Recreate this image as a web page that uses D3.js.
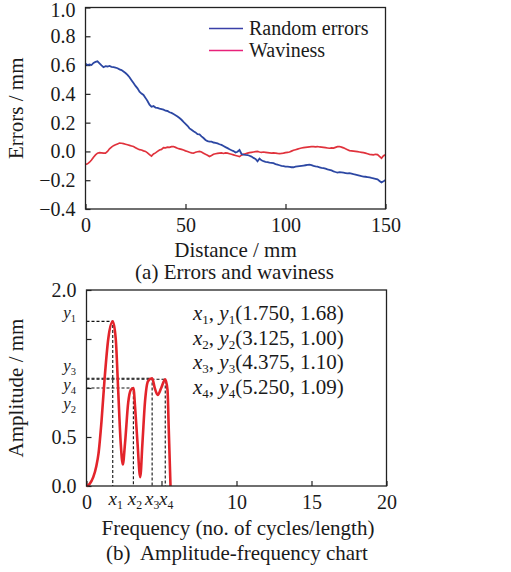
<!DOCTYPE html>
<html>
<head>
<meta charset="utf-8">
<script src="https://cdn.jsdelivr.net/npm/d3@7"></script>
<style>
  body { margin: 0; background: #fff; }
  svg text { font-family: "Liberation Serif", Tinos, "Times New Roman", Times, "DejaVu Serif", serif; fill: #1a1a1a; }
</style>
</head>
<body>
<div id="chart"></div>
<script>
// (a) errors and waviness, sampled every 1 mm
const distance = d3.range(0, 151);
const randomErrors = [
    0.610, 0.600, 0.605, 0.600, 0.615, 0.622, 0.626, 0.612, 0.598, 0.585,
    0.592, 0.590, 0.594, 0.588, 0.585, 0.582, 0.578, 0.570, 0.565, 0.555,
    0.545, 0.532, 0.515, 0.495, 0.475, 0.455, 0.438, 0.415, 0.402, 0.392,
    0.372, 0.350, 0.325, 0.310, 0.315, 0.305, 0.303, 0.298, 0.294, 0.290,
    0.283, 0.281, 0.272, 0.268, 0.260, 0.252, 0.243, 0.232, 0.220, 0.205,
    0.192, 0.178, 0.160, 0.150, 0.140, 0.132, 0.120, 0.118, 0.105, 0.093,
    0.080, 0.072, 0.068, 0.068, 0.062, 0.060, 0.056, 0.050, 0.045, 0.038,
    0.030, 0.023, 0.015, 0.008, 0.002, -0.008, -0.002, 0.010, -0.018, -0.022,
    -0.024, -0.025, -0.030, -0.036, -0.045, -0.052, -0.068, -0.050, -0.062, -0.068,
    -0.072, -0.074, -0.078, -0.080, -0.082, -0.088, -0.092, -0.096, -0.100, -0.102,
    -0.105, -0.106, -0.108, -0.110, -0.110, -0.106, -0.104, -0.102, -0.100, -0.098,
    -0.096, -0.094, -0.092, -0.095, -0.100, -0.104, -0.106, -0.110, -0.114, -0.116,
    -0.120, -0.125, -0.128, -0.132, -0.138, -0.143, -0.147, -0.144, -0.146, -0.148,
    -0.150, -0.152, -0.151, -0.154, -0.158, -0.161, -0.164, -0.168, -0.172, -0.175,
    -0.176, -0.178, -0.180, -0.184, -0.187, -0.190, -0.194, -0.205, -0.216, -0.208,
    -0.198
];
const waviness = [
    -0.090, -0.086, -0.075, -0.060, -0.040, -0.024, -0.012, -0.008, -0.010, -0.012,
    -0.012, 0.000, 0.018, 0.030, 0.040, 0.046, 0.052, 0.058, 0.057, 0.054,
    0.050, 0.046, 0.042, 0.038, 0.034, 0.026, 0.018, 0.012, 0.010, 0.004,
    0.000, -0.010, -0.022, -0.032, -0.018, -0.010, 0.000, 0.010, 0.014, 0.027,
    0.025, 0.030, 0.028, 0.033, 0.034, 0.028, 0.022, 0.018, 0.014, 0.010,
    0.004, 0.000, -0.006, -0.010, -0.012, -0.006, -0.002, 0.000, -0.004, -0.012,
    -0.020, -0.026, -0.035, -0.028, -0.020, -0.016, -0.014, -0.012, -0.010, -0.014,
    -0.010, -0.012, -0.016, -0.020, -0.024, -0.028, -0.032, -0.036, -0.026, -0.020,
    -0.016, -0.012, -0.008, -0.006, -0.004, -0.002, 0.000, -0.004, -0.006, -0.004,
    -0.006, -0.008, -0.010, -0.012, -0.010, -0.012, -0.014, -0.015, -0.014, -0.012,
    -0.008, -0.006, -0.004, 0.002, 0.008, 0.012, 0.016, 0.020, 0.024, 0.026,
    0.028, 0.030, 0.032, 0.033, 0.034, 0.032, 0.034, 0.031, 0.030, 0.028,
    0.026, 0.024, 0.022, 0.024, 0.023, 0.028, 0.033, 0.034, 0.030, 0.025,
    0.018, 0.012, 0.006, 0.004, 0.002, 0.000, -0.002, -0.004, -0.006, -0.008,
    -0.012, -0.016, -0.020, -0.022, -0.024, -0.020, -0.022, -0.035, -0.047, -0.030,
    -0.024
];
const errorTicks = [-0.4, -0.2, 0.0, 0.2, 0.4, 0.6, 0.8, 1.0];
const distanceTicks = [0, 50, 100, 150];

// (b) amplitude spectrum
const frequency = [0, 0.2, 0.45, 0.65, 0.8, 1.0, 1.2, 1.45, 1.75, 1.95, 2.12, 2.28, 2.42, 2.57, 2.78,
    2.95, 3.125, 3.25, 3.4, 3.58, 3.73, 3.9, 4.1, 4.375, 4.55, 4.75, 4.98, 5.25, 5.4, 5.48, 5.6];
const amplitude = [0, 0.02, 0.09, 0.2, 0.33, 0.66, 1.08, 1.5, 1.68, 1.5, 0.95, 0.44, 0.22, 0.44, 0.85,
    0.98, 1.00, 0.78, 0.44, 0.09, 0.44, 0.86, 1.07, 1.10, 1.0, 0.93, 1.0, 1.09, 0.98, 0.6, 0];
const peakX = [1.750, 3.125, 4.375, 5.250];
const peakY = [1.68, 1.00, 1.10, 1.09];
const peakText = ['1.750, 1.68', '3.125, 1.00', '4.375, 1.10', '5.250, 1.09'];
const ampTicks = [0.0, 0.5, 1.0, 1.5, 2.0];
const ampTickLabels = [0.0, 0.5, 2.0];
const freqTicks = [0, 5, 10, 15, 20];
const freqTickLabels = [0, 10, 15, 20];

const WIDTH = 511;
const HEIGHT = 572;
const FONT = 20;
const TITLE = 21;
const SERIF = '"Liberation Serif", Tinos, "Times New Roman", Times, "DejaVu Serif", serif';

const svg = d3.select('#chart')
    .append('svg')
    .attr('width', WIDTH)
    .attr('height', HEIGHT)
    .attr('font-family', SERIF);

svg.append('rect').attr('width', WIDTH).attr('height', HEIGHT).attr('fill', '#fff');

// ---------- (a) ----------
const ax = { left: 85.5, right: 385.5, top: 7.5, bottom: 209 };

const xA = d3.scaleLinear().domain([0, 150]).range([ax.left, ax.right]);
const yA = d3.scaleLinear().domain([-0.4, 1.0]).range([ax.bottom, ax.top]);

const gA = svg.append('g');

gA.append('g')
    .attr('transform', `translate(0, ${ax.bottom})`)
    .call(d3.axisBottom(xA).tickValues(distanceTicks).tickSize(-5).tickPadding(9).tickFormat(d3.format('d')))
    .call(g => g.select('.domain').remove());

gA.append('g')
    .attr('class', 'y-axis-a')
    .attr('transform', `translate(${ax.left}, 0)`)
    .call(d3.axisLeft(yA).tickValues(errorTicks).tickSize(-5).tickPadding(10).tickFormat(d3.format('.1f')))
    .call(g => g.select('.domain').remove());

// keep the top label inside the page
gA.selectAll('.y-axis-a .tick text').filter(d => d === 1.0).attr('dy', '0.45em');

const lineA = d3.line().x((d, i) => xA(distance[i]));

gA.append('path')
    .attr('d', lineA.y(d => yA(d))(waviness))
    .attr('fill', 'none')
    .attr('stroke', '#e0323c')
    .attr('stroke-width', 1.7);

gA.append('path')
    .attr('d', lineA.y(d => yA(d))(randomErrors))
    .attr('fill', 'none')
    .attr('stroke', '#2c47a3')
    .attr('stroke-width', 1.8);

gA.append('rect')
    .attr('x', ax.left).attr('y', ax.top)
    .attr('width', ax.right - ax.left).attr('height', ax.bottom - ax.top)
    .attr('fill', 'none').attr('stroke', '#222').attr('stroke-width', 1.3);

// legend
const legend = [
    { name: 'Random errors', color: '#3a40a8' },
    { name: 'Waviness', color: '#e8217a' }
];
legend.forEach((d, i) => {
    const y = 28.5 + i * 22;
    gA.append('line').attr('x1', 209).attr('x2', 243).attr('y1', y).attr('y2', y)
        .attr('stroke', d.color).attr('stroke-width', 1.6);
    gA.append('text').attr('x', 249).attr('y', y + 6.5).attr('font-size', FONT).text(d.name);
});

gA.append('text')
    .attr('transform', `translate(16, ${(ax.top + ax.bottom) / 2}) rotate(-90)`)
    .attr('text-anchor', 'middle').attr('dominant-baseline', 'central')
    .attr('font-size', TITLE).text('Errors / mm');

gA.append('text').attr('x', (ax.left + ax.right) / 2).attr('y', 257)
    .attr('text-anchor', 'middle').attr('font-size', TITLE).text('Distance / mm');
gA.append('text').attr('x', (ax.left + ax.right) / 2 - 1).attr('y', 279)
    .attr('text-anchor', 'middle').attr('font-size', TITLE).text('(a) Errors and waviness');

// ---------- (b) ----------
const bx = { left: 86.5, right: 386.5, top: 290, bottom: 486 };

const xB = d3.scaleLinear().domain([0, 20]).range([bx.left, bx.right]);
const yB = d3.scaleLinear().domain([0, 2]).range([bx.bottom, bx.top]);

const gB = svg.append('g');

gB.append('g')
    .attr('transform', `translate(0, ${bx.bottom})`)
    .call(d3.axisBottom(xB).tickValues(freqTicks).tickSize(-5).tickPadding(9)
        .tickFormat(d => freqTickLabels.includes(d) ? d3.format('d')(d) : ''))
    .call(g => g.select('.domain').remove());

gB.append('g')
    .attr('transform', `translate(${bx.left}, 0)`)
    .call(d3.axisLeft(yB).tickValues(ampTicks).tickSize(-5).tickPadding(10)
        .tickFormat(d => ampTickLabels.includes(d) ? d3.format('.1f')(d) : ''))
    .call(g => g.select('.domain').remove());

// dashed guides to peaks
peakX.forEach((px, i) => {
    gB.append('path')
        .attr('d', `M${xB(0)},${yB(peakY[i])}H${xB(px)}V${yB(0)}`)
        .attr('fill', 'none').attr('stroke', '#111')
        .attr('stroke-width', 1.1).attr('stroke-dasharray', '3,2');
});

gB.append('path')
    .datum(frequency.map((f, i) => [f, amplitude[i]]))
    .attr('d', d3.line().x(d => xB(d[0])).y(d => yB(d[1])).curve(d3.curveMonotoneX))
    .attr('fill', 'none')
    .attr('stroke', '#e3242b')
    .attr('stroke-width', 2.6);

gB.append('rect')
    .attr('x', bx.left).attr('y', bx.top)
    .attr('width', bx.right - bx.left).attr('height', bx.bottom - bx.top)
    .attr('fill', 'none').attr('stroke', '#222').attr('stroke-width', 1.3);

// subscripted italic label, e.g. y₁
function subLabel(g, letter, idx, x, y, anchor, size) {
    const t = g.append('text').attr('x', x).attr('y', y)
        .attr('text-anchor', anchor).attr('font-size', size);
    t.append('tspan').attr('font-style', 'italic').text(letter);
    t.append('tspan').attr('font-size', size * 0.62).attr('dy', 3.5).text(idx);
    return t;
}

// y-peak labels on the left axis (offsets keep them apart)
const yLabelShift = [-6, 18, -10, 8];
peakY.forEach((v, i) => {
    subLabel(gB, 'y', i + 1, 76, yB(v) + yLabelShift[i] + 3, 'end', 17);
});

// x-peak labels under the axis
const xLabelShift = [0, -1.5, -3, -2];
peakX.forEach((v, i) => {
    subLabel(gB, 'x', i + 1, xB(v) + xLabelShift[i] + 3, 505, 'middle', 19);
});

// peak coordinates text
peakText.forEach((s, i) => {
    const t = gB.append('text').attr('x', 193).attr('y', 320 + i * 24.5).attr('font-size', TITLE);
    t.append('tspan').attr('font-style', 'italic').text('x');
    t.append('tspan').attr('font-size', 13).attr('dy', 4).text(i + 1);
    t.append('tspan').attr('dy', -4).text(', ');
    t.append('tspan').attr('font-style', 'italic').text('y');
    t.append('tspan').attr('font-size', 13).attr('dy', 4).text(i + 1);
    t.append('tspan').attr('dy', -4).text('(' + s + ')');
});

gB.append('text')
    .attr('transform', `translate(16, ${(bx.top + bx.bottom) / 2}) rotate(-90)`)
    .attr('text-anchor', 'middle').attr('dominant-baseline', 'central')
    .attr('font-size', TITLE).text('Amplitude / mm');

gB.append('text').attr('x', 238).attr('y', 535)
    .attr('text-anchor', 'middle').attr('font-size', TITLE).text('Frequency (no. of cycles/length)');
gB.append('text').attr('x', 237).attr('y', 560)
    .attr('text-anchor', 'middle').attr('font-size', TITLE).attr('xml:space', 'preserve')
    .text('(b)  Amplitude-frequency chart');

// axis text styling
svg.selectAll('.tick text').attr('font-size', FONT).attr('fill', '#1a1a1a')
    .attr('font-family', SERIF);
svg.selectAll('.tick line').attr('stroke', '#222').attr('stroke-width', 1.2);
</script>
</body>
</html>
